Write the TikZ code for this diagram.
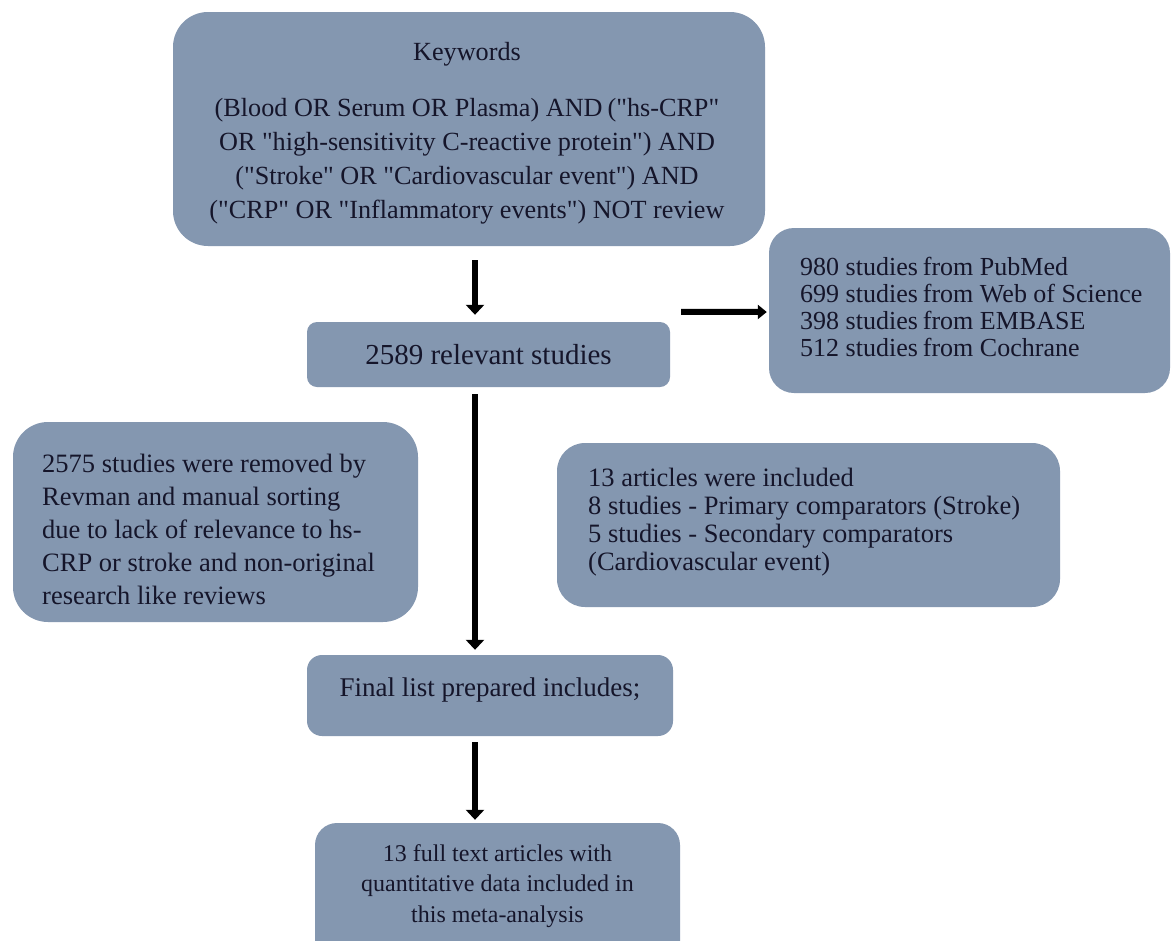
\documentclass[tikz,border=0pt]{standalone}
\usepackage{fontspec}
\setmainfont{Liberation Serif}[Ligatures=TeXOff]
\usetikzlibrary{arrows.meta}
\definecolor{boxfill}{HTML}{8497B0}
\definecolor{txt}{HTML}{15152A}
\tikzset{
  box/.style={fill=boxfill, rounded corners=#1, inner sep=0pt},
  box/.default=20pt,
  tx/.style={text=txt, inner sep=0pt},
  arr/.style={line width=6.5pt, black, -{Triangle[width=18pt,length=10pt]}},
  harr/.style={line width=6pt, black, -{Triangle[width=14pt,length=9pt]}},
}
\newcommand{\dsp}{\hspace{5pt}}
\begin{document}
\begin{tikzpicture}[x=1pt,y=-1pt]
\useasboundingbox (0,0) rectangle (1172,940);
\clip (0,0) rectangle (1172,940);
\fill[white] (0,0) rectangle (1172,940);

% boxes
\node[box=35pt, minimum width=592pt, minimum height=234pt] (kw) at (469,129) {};
\node[box=10pt, minimum width=363pt, minimum height=65pt] (rel) at (488.5,354.5) {};
\node[box=25pt, minimum width=401pt, minimum height=165pt] (src) at (969.5,310.5) {};
\node[box=35pt, minimum width=405pt, minimum height=200pt] (rem) at (215.5,522) {};
\node[box=28pt, minimum width=503pt, minimum height=164pt] (inc) at (808.5,525) {};
\node[box=15pt, minimum width=366pt, minimum height=81pt] (fin) at (490,695.5) {};
\node[box=22pt, minimum width=365pt, minimum height=140pt] (full) at (497.5,893) {};

% texts
\node[tx, align=center, font=\fontsize{26.2}{34}\selectfont] (kwt) at (467,133)
  {Keywords\\[22pt]
   (Blood OR Serum OR Plasma) AND\dsp("hs-CRP"\\
   OR "high-sensitivity C-reactive protein") AND\\
   ("Stroke" OR "Cardiovascular event") AND\\
   ("CRP" OR "Inflammatory events") NOT review};

\node[tx, font=\fontsize{29}{32}\selectfont] (relt) at (rel.center)
  {2589 relevant studies};

\node[tx, align=left, anchor=west, font=\fontsize{26}{27}\selectfont] (srct) at (800,307)
  {980 studies\dsp from PubMed\\
   699 studies\dsp from Web of Science\\
   398 studies\dsp from EMBASE\\
   512 studies\dsp from Cochrane};

\node[tx, align=left, anchor=west, font=\fontsize{26.5}{33}\selectfont] (remt) at (42,529)
  {2575 studies were removed by\\
   Revman and manual sorting\\
   due to lack of relevance to hs-\\
   CRP or stroke and non-original\\
   research like reviews};

\node[tx, align=left, anchor=west, font=\fontsize{26.5}{28}\selectfont] (inct) at (588,522)
  {13 articles were included\\
   8 studies - Primary comparators (Stroke)\\
   5 studies - Secondary comparators\\
   (Cardiovascular event)};

\node[tx, font=\fontsize{27}{30}\selectfont] (fint) at (490,690)
  {Final list prepared includes;};

\node[tx, align=center, font=\fontsize{24}{30.5}\selectfont] (fullt) at (497.5,886)
  {13 full text articles with\\
   quantitative data included in\\
   this meta-analysis};

% arrows
\draw[arr] ([xshift=6pt,yshift=-14pt]kw.south) -- ([xshift=-13.5pt,yshift=7pt]rel.north);
\draw[harr] ([xshift=11pt,yshift=10pt]rel.north east) -- ([xshift=-2pt,yshift=-1.5pt]src.west);
\draw[arr] ([xshift=-13.5pt,yshift=-7pt]rel.south) -- ([xshift=-15pt,yshift=5pt]fin.north);
\draw[arr] ([xshift=-15pt,yshift=-6pt]fin.south) -- ([xshift=-22.5pt,yshift=3pt]full.north);
\end{tikzpicture}
\end{document}
